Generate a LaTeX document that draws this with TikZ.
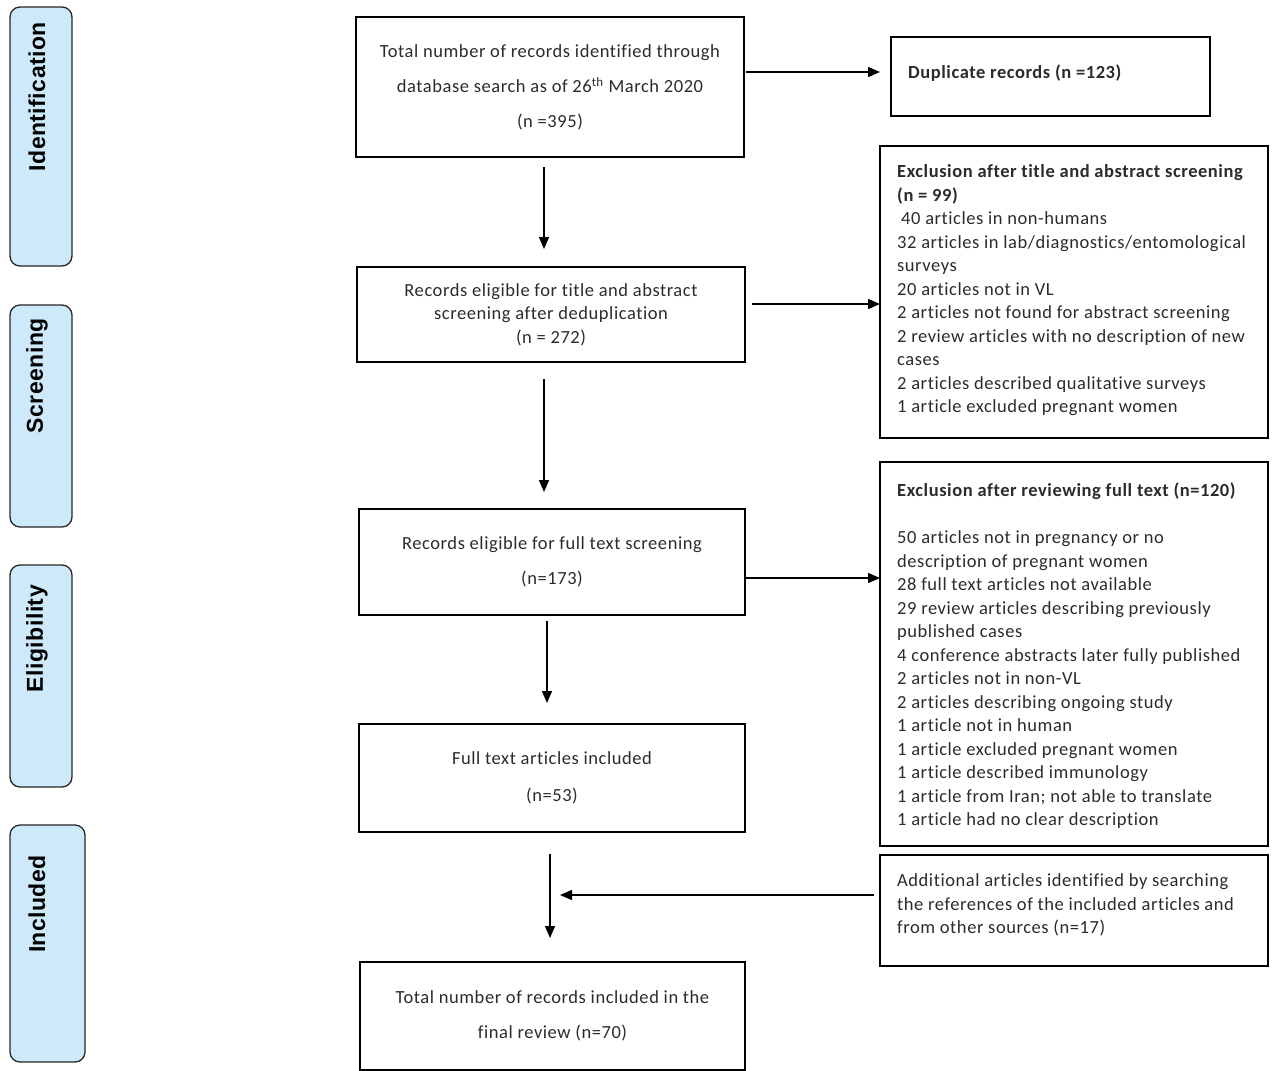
\documentclass[tikz,border=0pt]{standalone}
\usepackage{fontspec}
\setmainfont{Carlito}[LetterSpace=3,Ligatures=NoCommon]
\newfontfamily\barfont{Liberation Sans}[LetterSpace=2]
\usetikzlibrary{arrows.meta}
\definecolor{barfill}{HTML}{CDE9FA}
\definecolor{txt}{HTML}{2B2B2B}
\begin{document}
\begin{tikzpicture}[x=1pt,y=-1pt,
 stagebar/.style={draw=black!85,line width=1.3pt,rounded corners=10pt,fill=barfill},
 stagelabel/.style={font=\barfont\bfseries\fontsize{23}{26}\selectfont,rotate=90,anchor=east,inner sep=0pt},
 mainbox/.style={draw,line width=1.4pt,align=center,inner sep=0pt,font=\fontsize{18.5}{23.5}\selectfont,text=txt},
 sidebox/.style={draw,line width=1.4pt,inner sep=0pt},
 sidetext/.style={align=left,anchor=north west,inner sep=0pt,font=\fontsize{18.5}{23.5}\selectfont,text=txt},
 flow/.style={line width=1.4pt,-{Triangle[length=12pt,width=10pt]}}
]
\useasboundingbox (0,0) rectangle (1280,1071);

% stage bars
\node[stagebar,minimum width=62pt,minimum height=259pt] (barid) at (41,136.5) {};
\node[stagelabel] (labid) at (37,22) {Identification};
\node[stagebar,minimum width=62pt,minimum height=222pt] (barsc) at (41,416) {};
\node[stagelabel] (labsc) at (37,318) {Screening};
\node[stagebar,minimum width=62pt,minimum height=222pt] (barel) at (41,676) {};
\node[stagelabel] (label) at (37,585) {Eligibility};
\node[stagebar,minimum width=75pt,minimum height=237pt] (barin) at (47.5,943.5) {};
\node[stagelabel] (labin) at (37,855) {Included};

% main column
\node[mainbox,minimum width=388pt,minimum height=140pt] (total) at (550,87)
 {Total number of records identified through\\[12pt] database search as of 26\textsuperscript{th} March 2020\\[11pt] (n =395)};
\node[mainbox,minimum width=388pt,minimum height=95pt] (elig) at (551,314.5)
 {Records eligible for title and abstract\\ screening after deduplication\\ (n = 272)};
\node[mainbox,minimum width=386pt,minimum height=106pt] (full) at (552,562)
 {Records eligible for full text screening\\[12pt] (n=173)};
\node[mainbox,minimum width=386pt,minimum height=108pt] (incl) at (552,778)
 {Full text articles included\\[13pt] (n=53)};
\node[mainbox,minimum width=385pt,minimum height=108pt] (final) at (552.5,1016)
 {Total number of records included in the\\[11pt] final review (n=70)};

% side boxes
\node[sidebox,minimum width=319pt,minimum height=79pt] (dup) at (1050.5,76.5) {};
\node[anchor=west,inner sep=0pt,font=\bfseries\fontsize{18.5}{23.5}\selectfont,text=txt] (duptext) at (908,73) {Duplicate records (n =123)};

\node[sidebox,minimum width=388pt,minimum height=292pt] (ex1) at (1074,292) {};
\node[sidetext] (ex1text) at (897,164.5)
 {\textbf{Exclusion after title and abstract screening}\\
  \textbf{(n = 99)}\\
  \hspace{4pt}40 articles in non-humans\\
  32 articles in lab/diagnostics/entomological\\
  surveys\\
  20 articles not in VL\\
  2 articles not found for abstract screening\\
  2 review articles with no description of new\\
  cases\\
  2 articles described qualitative surveys\\
  1 article excluded pregnant women};

\node[sidebox,minimum width=388pt,minimum height=384pt] (ex2) at (1074,654) {};
\node[sidetext] (ex2text) at (897,483)
 {\textbf{Exclusion after reviewing full text (n=120)}\\[23.5pt]
  50 articles not in pregnancy or no\\
  description of pregnant women\\
  28 full text articles not available\\
  29 review articles describing previously\\
  published cases\\
  4 conference abstracts later fully published\\
  2 articles not in non-VL\\
  2 articles describing ongoing study\\
  1 article not in human\\
  1 article excluded pregnant women\\
  1 article described immunology\\
  1 article from Iran; not able to translate\\
  1 article had no clear description};

\node[sidebox,minimum width=388pt,minimum height=111pt] (add) at (1074,910.5) {};
\node[sidetext] (addtext) at (897,873.5)
 {Additional articles identified by searching\\
  the references of the included articles and\\
  from other sources (n=17)};

% connector end points
\coordinate (a1) at (746,72);  \coordinate (b1) at (880,72);
\coordinate (a2) at (544,167); \coordinate (b2) at (544,249);
\coordinate (a3) at (752,304); \coordinate (b3) at (880,304);
\coordinate (a4) at (544,379); \coordinate (b4) at (544,492);
\coordinate (a5) at (746,578); \coordinate (b5) at (880,578);
\coordinate (a6) at (547,621); \coordinate (b6) at (547,703);
\coordinate (a7) at (550,854); \coordinate (b7) at (550,938);
\coordinate (a8) at (874,895); \coordinate (b8) at (560,895);

\draw[flow] (a1) -- (b1);
\draw[flow] (a2) -- (b2);
\draw[flow] (a3) -- (b3);
\draw[flow] (a4) -- (b4);
\draw[flow] (a5) -- (b5);
\draw[flow] (a6) -- (b6);
\draw[flow] (a7) -- (b7);
\draw[flow] (a8) -- (b8);
\end{tikzpicture}
\end{document}
